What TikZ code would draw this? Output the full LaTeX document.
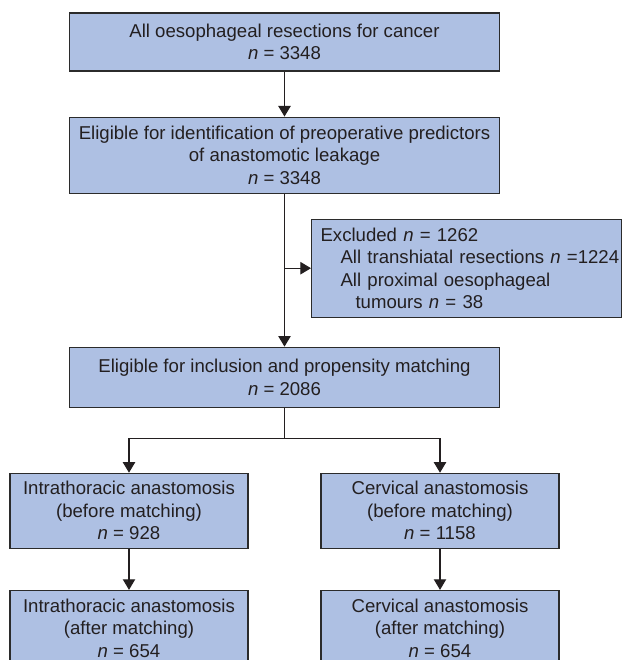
\documentclass[tikz,border=0pt]{standalone}
\usepackage{fontspec}
\setmainfont{Liberation Sans}
\usepackage{tikz}
\usetikzlibrary{arrows.meta,positioning}
\definecolor{boxfill}{HTML}{AEC0E3}
\definecolor{edge}{HTML}{2B2B2B}
\definecolor{ink}{HTML}{231F20}
\newcommand{\nn}{\textit{n}}
\tikzset{
  >={Triangle[length=5.3pt,width=6.2pt]},
  box/.style={draw=edge,fill=boxfill,line width=0.55pt,inner sep=0pt,align=center,text=ink,font=\fontsize{9.3}{11.25}\selectfont},
  wbox/.style={box,minimum width=215pt},
  sbox/.style={box,minimum width=119pt,minimum height=37.5pt},
  ebox/.style={box,align=left,text width=146pt,inner xsep=4.5pt,minimum height=49pt},
  arr/.style={->,draw=ink,line width=0.55pt},
  conn/.style={draw=ink,line width=0.55pt},
}
\begin{document}
\begin{tikzpicture}
\useasboundingbox (0,0) rectangle (311pt,-330pt);
\node[wbox,minimum height=29pt] (all) at (142.25pt,-21pt) {All oesophageal resections for cancer\\\nn{} = 3348};
\node[wbox,minimum height=38pt,below=22.5pt of all] (elig) {Eligible for identification of preoperative predictors\\of anastomotic leakage\\\nn{} = 3348};
\node[ebox,below right=12.5pt and 13.25pt of elig.south] (excl) {Excluded \nn{} = 1262\\\hspace*{10pt}\mbox{All transhiatal resections \nn{} =1224}\\\hspace*{10pt}All proximal oesophageal\\\hspace*{17.5pt}tumours \nn{} = 38};
\node[wbox,minimum height=30pt,below=76.5pt of elig] (incl) {Eligible for inclusion and propensity matching\\\nn{} = 2086};
\coordinate[below=15.5pt of incl] (fork);
\node[sbox,below=32.5pt of incl,xshift=-77.75pt] (intra1) {Intrathoracic anastomosis\\(before matching)\\\nn{} = 928};
\node[sbox,below=32.5pt of incl,xshift=77.75pt] (cerv1) {Cervical anastomosis\\(before matching)\\\nn{} = 1158};
\node[sbox,below=20.5pt of intra1] (intra2) {Intrathoracic anastomosis\\(after matching)\\\nn{} = 654};
\node[sbox,below=20.5pt of cerv1] (cerv2) {Cervical anastomosis\\(after matching)\\\nn{} = 654};
\draw[arr] (all) -- (elig);
\draw[arr] (elig) -- (incl);
\draw[arr] (elig.south |- excl.west) -- (excl.west);
\draw[conn] (incl) -- (fork);
\draw[arr] (fork) -| (intra1);
\draw[arr] (fork) -| (cerv1);
\draw[arr] (intra1) -- (intra2);
\draw[arr] (cerv1) -- (cerv2);
\end{tikzpicture}
\end{document}
